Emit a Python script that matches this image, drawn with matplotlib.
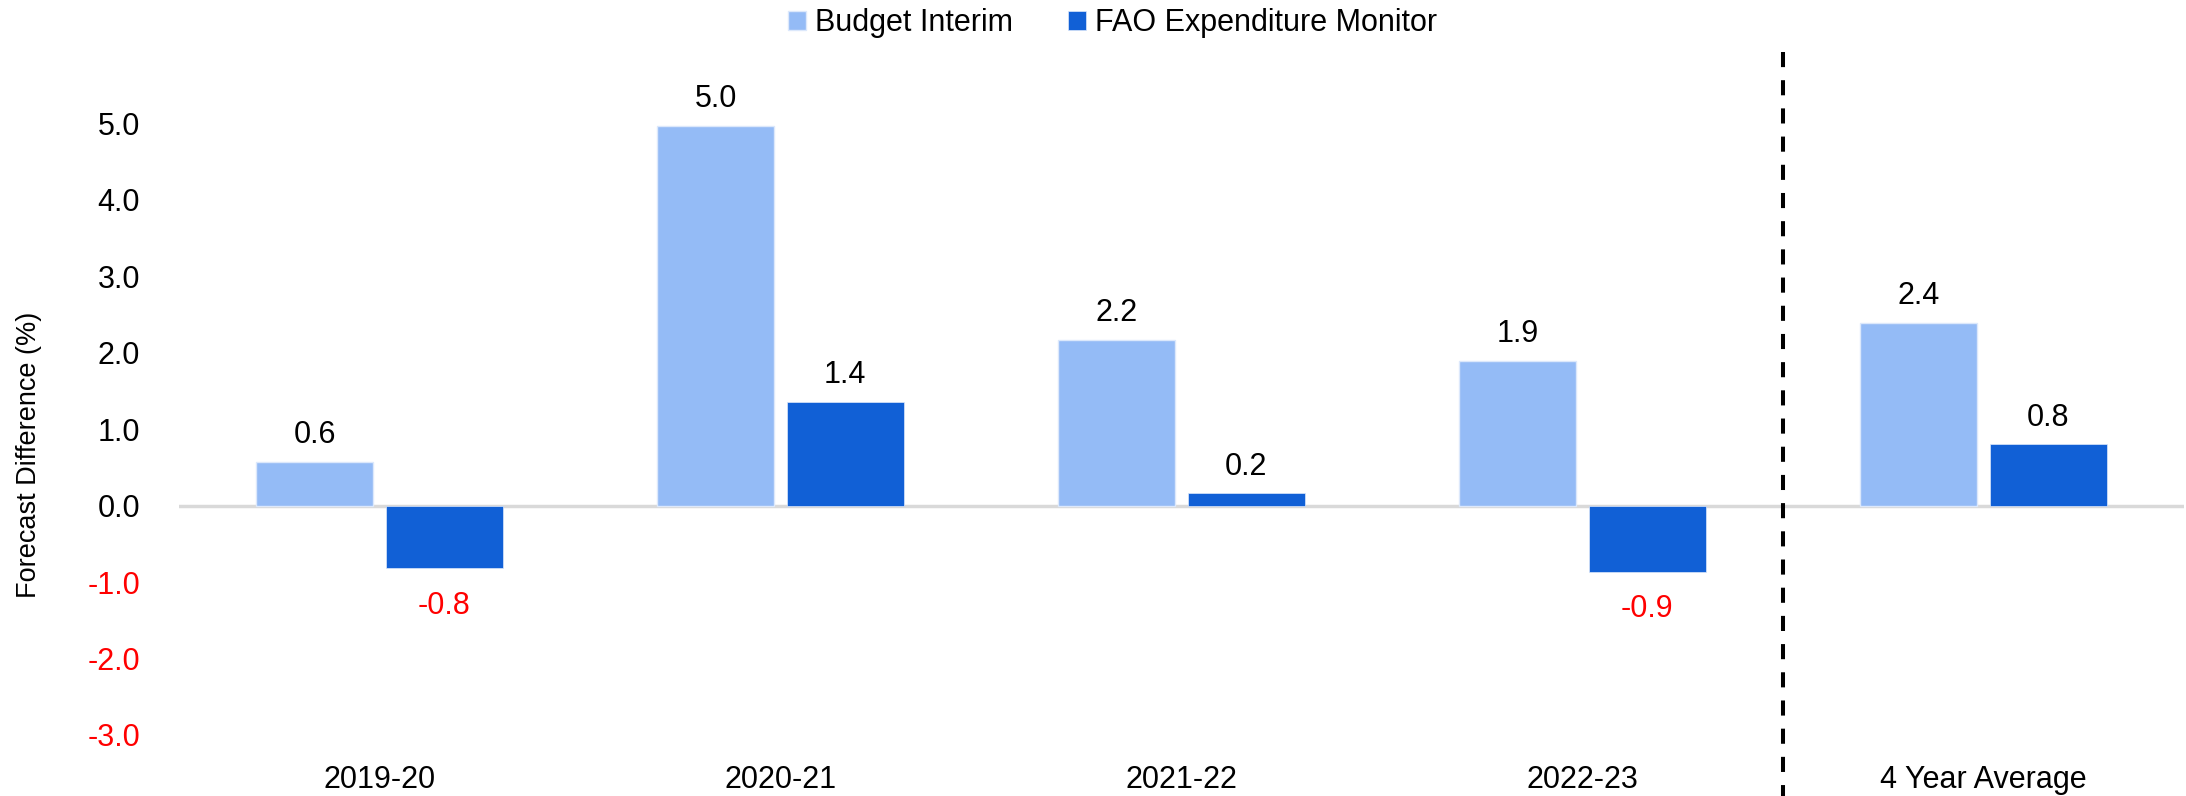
import matplotlib.pyplot as plt
import numpy as np

plt.rcParams['font.family'] = ['Liberation Sans', 'DejaVu Sans']

categories = ['2019-20', '2020-21', '2021-22', '2022-23', '4 Year Average']
budget_interim = [0.57, 4.97, 2.17, 1.89, 2.39]
fao_monitor = [-0.82, 1.36, 0.16, -0.87, 0.80]
y_ticks = [-3.0, -2.0, -1.0, 0.0, 1.0, 2.0, 3.0, 4.0, 5.0]

light = '#94BBF6'
dark = '#1160D6'


def main():
    W, H = 2186, 796
    fig = plt.figure(figsize=(W / 100, H / 100), dpi=100)
    # plot area in pixels: left 179, right 2184, bottom 735, top 85
    ax = fig.add_axes([179 / W, 1 - 735 / H, (2184 - 179) / W, (735 - 85) / H])

    x = np.arange(len(categories))
    w = 0.292
    off = 0.161
    ax.bar(x - off, budget_interim, w, color=light, edgecolor='#DCE8FB', linewidth=1,
           label='Budget Interim', zorder=2)
    ax.bar(x + off, fao_monitor, w, color=dark, edgecolor='#DCE8FB', linewidth=0.5,
           label='FAO Expenditure Monitor', zorder=2)

    # data labels
    for xs, vals in ((x - off, budget_interim), (x + off, fao_monitor)):
        for xi, v in zip(xs, vals):
            if v >= 0:
                ax.annotate(f'{v:.1f}', (xi, v), xytext=(0, 8.5), textcoords='offset points',
                            ha='center', va='bottom', fontsize=22, color='black')
            else:
                ax.annotate(f'{v:.1f}', (xi, v), xytext=(0, -16), textcoords='offset points',
                            ha='center', va='top', fontsize=22, color='red')

    ax.axhline(0, color='#D9D9D9', linewidth=2.5, zorder=1)

    ax.set_xlim(-0.5, len(categories) - 0.5)
    ax.set_ylim(-3.0, 5.5)
    ax.set_yticks(y_ticks)
    ax.set_yticklabels([f'{t:.1f}' for t in y_ticks], fontsize=22)
    for lab, t in zip(ax.get_yticklabels(), y_ticks):
        lab.set_color('red' if t < 0 else 'black')
    ax.set_xticks(x)
    ax.set_xticklabels(categories, fontsize=22)
    ax.tick_params(axis='y', length=0, pad=28)
    ax.tick_params(axis='x', length=0, pad=21.4)
    for s in ax.spines.values():
        s.set_visible(False)

    ax.set_ylabel('Forecast Difference (%)', fontsize=19.5)
    ax.yaxis.set_label_coords(-0.0683, 0.431)

    # divider before the average, runs from near the top to the bottom edge
    ax.plot([3.5, 3.5], [(735 - 52) / 650, -(796 - 735) / 650], color='black',
            linestyle=(0, (3.75, 3.25)), linewidth=2.9, dash_capstyle='butt',
            clip_on=False, zorder=3, transform=ax.get_xaxis_transform())

    fig.legend(loc='center', bbox_to_anchor=(0.509, 1 - 23 / H), ncol=2, frameon=False,
               fontsize=22, handlelength=0.59, handleheight=0.59, columnspacing=1.8,
               handletextpad=0.3, borderpad=0)

    fig.savefig('out.png', dpi=100)


if __name__ == "__main__":
    main()
